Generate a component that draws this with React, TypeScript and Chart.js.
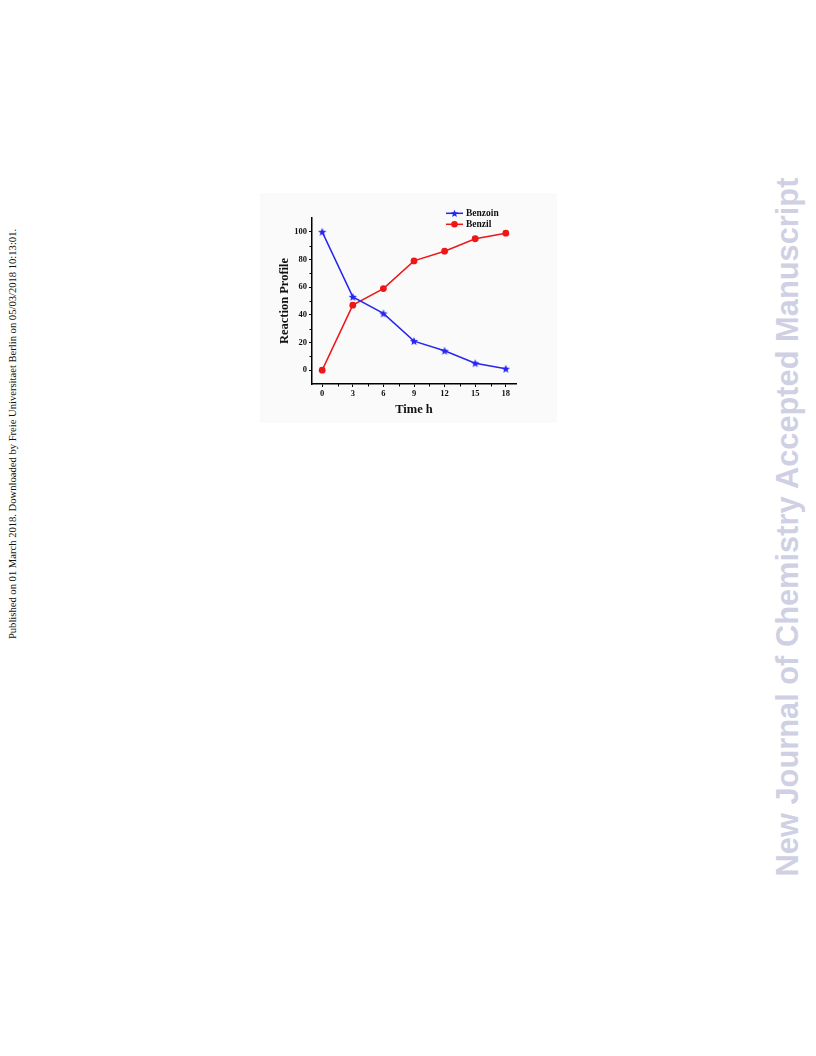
import React, { useEffect, useRef } from "react";
import { Chart, registerables } from "chart.js";

Chart.register(...registerables);

const timeHours = [0, 3, 6, 9, 12, 15, 18];
const benzoin = [100, 53, 41, 21, 14, 5, 1];
const benzil = [0, 47, 59, 79, 86, 95, 99];
const seriesNames = ["Benzoin", "Benzil"];
const xTicks = [0, 3, 6, 9, 12, 15, 18];
const yTicks = [0, 20, 40, 60, 80, 100];
const xMinor = [1.5, 4.5, 7.5, 10.5, 13.5, 16.5];
const yMinor = [10, 30, 50, 70, 90];
const xTitle = "Time h";
const yTitle = "Reaction Profile";
const sideNote =
  "Published on 01 March 2018. Downloaded by Freie Universitaet Berlin on 05/03/2018 10:13:01.";
const watermark = "New Journal of Chemistry Accepted Manuscript";

const BLUE = "rgb(38,38,240)";
const RED = "rgb(238,22,22)";
const SERIF = "'Liberation Serif', 'Times New Roman', serif";

function drawStar(ctx: CanvasRenderingContext2D, cx: number, cy: number, r: number, color: string) {
  ctx.save();
  ctx.beginPath();
  for (let i = 0; i < 10; i++) {
    const rad = i % 2 === 0 ? r : r * 0.45;
    const a = -Math.PI / 2 + (i * Math.PI) / 5;
    const px = cx + rad * Math.cos(a);
    const py = cy + rad * Math.sin(a);
    if (i === 0) ctx.moveTo(px, py);
    else ctx.lineTo(px, py);
  }
  ctx.closePath();
  ctx.fillStyle = color;
  ctx.fill();
  ctx.restore();
}

function makeStarImage(color: string) {
  const c = document.createElement("canvas");
  c.width = 10;
  c.height = 10;
  const ctx = c.getContext("2d")!;
  drawStar(ctx, 5, 5.4, 4.3, color);
  return c;
}

export default function App() {
  const ref = useRef<HTMLCanvasElement | null>(null);

  useEffect(() => {
    if (!ref.current) return;
    const star = makeStarImage(BLUE);

    const extras = {
      id: "extras",
      afterDraw(chart: any) {
        const ctx = chart.ctx as CanvasRenderingContext2D;
        const xs = chart.scales.x;
        const ys = chart.scales.y;
        const area = chart.chartArea;
        ctx.save();
        ctx.strokeStyle = "#000";
        ctx.lineWidth = 1;
        ctx.beginPath();
        xMinor.forEach((v) => {
          const px = Math.round(xs.getPixelForValue(v)) + 0.5;
          ctx.moveTo(px, area.bottom);
          ctx.lineTo(px, area.bottom + 2.5);
        });
        yMinor.forEach((v) => {
          const py = Math.round(ys.getPixelForValue(v)) + 0.5;
          ctx.moveTo(area.left, py);
          ctx.lineTo(area.left - 2.5, py);
        });
        ctx.stroke();

        // legend
        const items = [
          { name: seriesNames[0], color: BLUE, y: 20.3, marker: "star" },
          { name: seriesNames[1], color: RED, y: 31.3, marker: "circle" },
        ];
        items.forEach((it) => {
          ctx.strokeStyle = it.color;
          ctx.lineWidth = 1.5;
          ctx.beginPath();
          ctx.moveTo(186, it.y);
          ctx.lineTo(203, it.y);
          ctx.stroke();
          if (it.marker === "star") {
            drawStar(ctx, 194.5, it.y + 0.4, 4.0, it.color);
          } else {
            ctx.fillStyle = it.color;
            ctx.beginPath();
            ctx.arc(194.5, it.y, 3.3, 0, Math.PI * 2);
            ctx.fill();
          }
          ctx.fillStyle = "#111";
          ctx.font = "bold 9.5px " + SERIF;
          ctx.textBaseline = "middle";
          ctx.textAlign = "left";
          ctx.fillText(it.name, 206, it.y);
        });
        ctx.restore();
      },
    };

    const tickFont = { family: SERIF, size: 8.5, weight: "bold" as const };
    const titleFont = { family: SERIF, size: 12.5, weight: "bold" as const };

    const chart = new Chart(ref.current, {
      type: "line",
      data: {
        datasets: [
          {
            label: seriesNames[0],
            data: timeHours.map((t, i) => ({ x: t, y: benzoin[i] })),
            borderColor: BLUE,
            backgroundColor: BLUE,
            borderWidth: 1.5,
            pointStyle: star as any,
            pointRadius: 4,
            tension: 0,
          },
          {
            label: seriesNames[1],
            data: timeHours.map((t, i) => ({ x: t, y: benzil[i] })),
            borderColor: RED,
            backgroundColor: RED,
            borderWidth: 1.5,
            pointStyle: "circle",
            pointRadius: 3.4,
            pointBorderWidth: 0,
            tension: 0,
          },
        ],
      },
      options: {
        responsive: false,
        animation: false,
        layout: { padding: { left: 0, top: 25, right: 41, bottom: 0 } },
        plugins: { legend: { display: false }, tooltip: { enabled: false } },
        scales: {
          x: {
            type: "linear",
            min: -1,
            max: 19,
            afterBuildTicks: (s: any) => {
              s.ticks = xTicks.map((v) => ({ value: v }));
            },
            afterFit: (s: any) => {
              s.height = 39;
            },
            ticks: { font: tickFont, color: "#111", padding: 2, maxRotation: 0, autoSkip: false },
            grid: { drawOnChartArea: false, drawTicks: true, tickLength: 3, color: "#000", lineWidth: 1 },
            border: { display: true, color: "#000", width: 1.5 },
            title: {
              display: true,
              text: xTitle,
              font: titleFont,
              color: "#111",
              padding: { top: 0, bottom: 6 },
            },
          },
          y: {
            type: "linear",
            min: -10,
            max: 110,
            afterBuildTicks: (s: any) => {
              s.ticks = yTicks.map((v) => ({ value: v }));
            },
            afterFit: (s: any) => {
              s.width = 52;
            },
            ticks: { font: tickFont, color: "#111", padding: 2, autoSkip: false },
            grid: { drawOnChartArea: false, drawTicks: true, tickLength: 3, color: "#000", lineWidth: 1 },
            border: { display: true, color: "#000", width: 1.5 },
            title: {
              display: true,
              text: yTitle,
              font: titleFont,
              color: "#111",
              padding: { top: 17, bottom: 0 },
            },
          },
        },
      } as any,
      plugins: [extras],
    });
    return () => chart.destroy();
  }, []);

  return (
    <div style={{ position: "absolute", left: 0, top: 0, width: 816, height: 1056, background: "#fff", overflow: "hidden" }}>
      <canvas
        ref={ref}
        width={297}
        height={230}
        style={{ position: "absolute", left: 260, top: 193, width: 297, height: 230, background: "#fafafa" }}
      />
      <div
        style={{
          position: "absolute",
          left: 12,
          top: 434,
          transform: "translate(-50%, -50%) rotate(-90deg)",
          whiteSpace: "nowrap",
          font: "10.6px 'Liberation Serif', serif",
          color: "#111",
        }}
      >
        {sideNote}
      </div>
      <div
        style={{
          position: "absolute",
          left: 788,
          top: 527,
          transform: "translate(-50%, -50%) rotate(-90deg)",
          whiteSpace: "nowrap",
          font: "bold 30.8px 'Liberation Sans', Arial, sans-serif",
          color: "#d0d0e4",
        }}
      >
        {watermark}
      </div>
    </div>
  );
}
